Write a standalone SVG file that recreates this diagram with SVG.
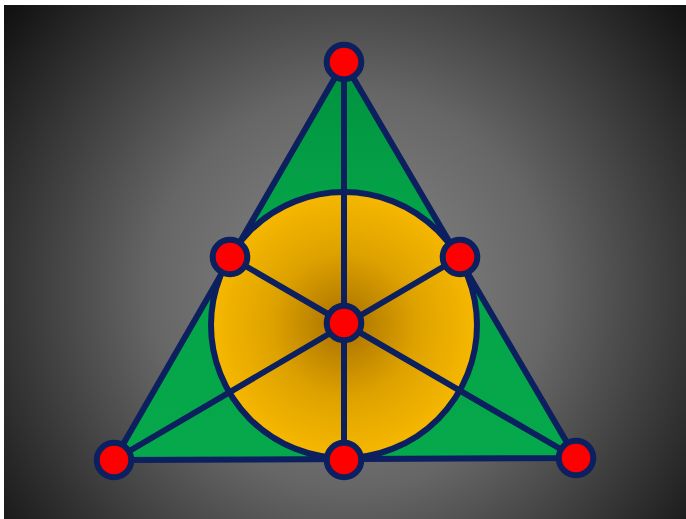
<svg xmlns="http://www.w3.org/2000/svg" width="686" height="519" viewBox="0 0 686 519">
<defs>
<radialGradient id="bg" cx="350" cy="290" r="440" gradientUnits="userSpaceOnUse">
<stop offset="0" stop-color="#8a8a8a"/>
<stop offset="0.45" stop-color="#666"/>
<stop offset="1" stop-color="#121212"/>
</radialGradient>
<radialGradient id="disc" cx="344" cy="325" r="133" gradientUnits="userSpaceOnUse">
<stop offset="0" stop-color="#a87000"/>
<stop offset="0.55" stop-color="#dea200"/>
<stop offset="1" stop-color="#f6b800"/>
</radialGradient>
<linearGradient id="gr" x1="0" y1="62" x2="0" y2="460" gradientUnits="userSpaceOnUse">
<stop offset="0" stop-color="#00923f"/>
<stop offset="0.4" stop-color="#05a448"/>
<stop offset="1" stop-color="#05a84a"/>
</linearGradient>
<style>
.ln{stroke:#0c1f5e;stroke-width:6;fill:none;stroke-linecap:round;stroke-linejoin:round}
.pt{fill:#ff0000;stroke:#0c1f5e;stroke-width:6}
</style>
</defs>
<rect x="0" y="0" width="686" height="519" fill="#fff"/>
<rect x="4" y="5" width="682" height="514" fill="url(#bg)"/>
<g id="triangle">
<polygon points="344,62 114,460 576,458" class="ln" style="fill:url(#gr)"/>
</g>
<g id="circle">
<circle cx="344" cy="325" r="133" class="ln" style="fill:url(#disc)"/>
</g>
<g id="connectors" class="ln">
<line x1="344" y1="62" x2="344" y2="460"/>
<line x1="114" y1="460" x2="460" y2="257"/>
<line x1="576" y1="458" x2="230" y2="257"/>
</g>
<g id="n-top"><circle class="pt" cx="344" cy="62" r="17.3"/></g>
<g id="n-left"><circle class="pt" cx="230" cy="257" r="17.3"/></g>
<g id="n-right"><circle class="pt" cx="460" cy="257" r="17.3"/></g>
<g id="n-center"><circle class="pt" cx="344" cy="323" r="17.3"/></g>
<g id="n-bl"><circle class="pt" cx="114" cy="460" r="17.3"/></g>
<g id="n-bm"><circle class="pt" cx="344" cy="460" r="17.3"/></g>
<g id="n-br"><circle class="pt" cx="576" cy="458" r="17.3"/></g>
</svg>
